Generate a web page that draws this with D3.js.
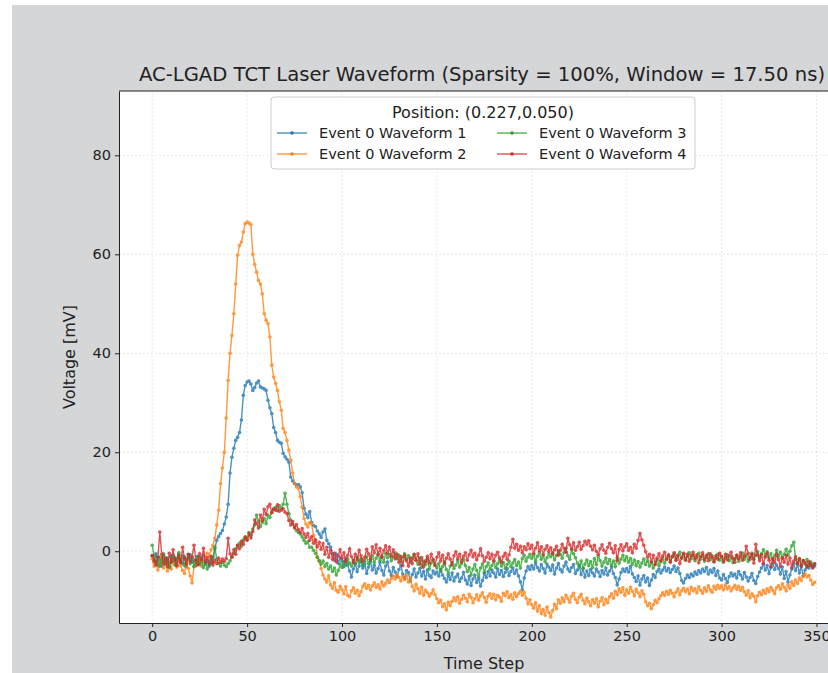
<!DOCTYPE html>
<html>
<head>
<meta charset="utf-8">
<script src="https://cdn.jsdelivr.net/npm/d3@7"></script>
<style>
    body { margin: 0; background: #ffffff; }
    svg { display: block; font-family: "DejaVu Sans", sans-serif; }
    .tick text { font-family: "DejaVu Sans", sans-serif; }
</style>
</head>
<body>
<script>
// series values, one per time step (0..349)
let wave1 = [
    -1.0,-2.1,-0.5,-2.8,-1.2,-3.0,-0.8,-2.4,-1.6,-3.3,
    -0.9,-2.0,-1.3,-2.7,-0.6,-1.9,-2.5,-1.1,-3.1,-1.4,
    -0.7,-2.2,-1.8,-2.9,-1.0,-2.3,-1.5,-0.8,-2.6,-1.9,
    -3.0,-2.4,-1.2,0.5,2.2,3.0,3.6,4.2,5.5,6.9,
    9.5,15.8,19.0,20.8,22.4,23.0,24.0,26.5,31.5,33.5,
    34.2,34.4,33.8,32.5,33.1,34.0,34.4,33.2,33.0,32.8,
    32.5,30.5,29.0,27.8,25.0,24.0,22.4,22.0,21.8,19.8,
    19.1,18.6,18.0,15.0,14.2,13.7,13.4,13.5,13.0,11.8,
    8.7,7.5,6.8,8.0,5.8,5.2,5.0,4.1,3.5,2.8,
    3.9,4.5,2.2,1.5,0.8,-0.5,-1.8,-0.6,-2.4,-1.3,
    -2.0,-3.1,-1.5,-2.8,-4.0,-5.2,-3.6,-2.5,-4.1,-3.0,
    -1.8,-3.4,-2.6,-4.5,-3.2,-2.1,-3.8,-2.9,-4.4,-3.5,
    -2.3,-3.9,-4.8,-3.0,-2.2,-4.0,-4.9,-3.3,-4.2,-5.1,
    -3.7,-2.8,-4.6,-5.5,-3.9,-4.3,-6.0,-4.7,-3.6,-5.2,
    -4.4,-3.5,-5.0,-4.1,-5.6,-3.8,-4.9,-5.3,-4.0,-4.6,
    -4.2,-5.0,-3.7,-4.8,-5.5,-6.2,-4.9,-5.7,-4.4,-6.0,
    -5.2,-4.6,-6.1,-5.4,-4.3,-5.8,-6.6,-5.1,-6.9,-5.6,
    -4.8,-6.3,-5.5,-7.0,-5.9,-4.5,-5.3,-4.1,-5.0,-3.8,
    -4.4,-5.2,-3.6,-4.7,-3.9,-5.1,-4.3,-3.5,-4.9,-4.1,
    -3.4,-4.5,-3.8,-5.0,-6.2,-7.8,-5.4,-4.0,-3.1,-3.7,
    -2.9,-3.6,-2.4,-3.3,-4.0,-2.7,-3.5,-4.4,-2.6,-3.2,
    -3.9,-2.8,-4.6,-3.4,-2.5,-3.7,-4.2,-3.0,-2.2,-3.6,
    -4.1,-3.3,-2.7,-4.5,-3.8,-2.9,-4.7,-3.5,-5.2,-4.0,
    -4.9,-3.7,-4.4,-5.0,-3.6,-4.2,-5.1,-3.9,-4.6,-3.4,
    -4.8,-4.0,-3.2,-4.5,-5.3,-6.8,-5.6,-4.3,-3.6,-4.1,
    -3.5,-4.2,-3.1,-4.6,-5.3,-6.1,-5.0,-6.8,-5.6,-4.9,
    -6.2,-5.4,-6.9,-5.8,-4.7,-5.3,-4.1,-3.6,-4.4,-3.8,
    -3.2,-4.0,-3.5,-4.3,-3.7,-3.0,-4.1,-3.4,-4.5,-5.9,
    -6.4,-5.5,-4.8,-5.3,-4.6,-5.0,-4.2,-4.7,-3.9,-4.4,
    -3.6,-4.1,-3.3,-4.6,-3.8,-4.3,-3.5,-4.9,-4.0,-5.4,
    -5.8,-4.7,-5.5,-6.3,-5.1,-4.4,-5.0,-4.6,-5.4,-4.1,
    -4.8,-5.6,-4.3,-5.2,-6.0,-5.3,-4.5,-5.9,-6.5,-5.1,
    -4.2,-3.4,-2.6,-3.8,-2.9,-4.5,-3.3,-2.4,-3.7,-2.8,
    -3.5,-4.6,-3.2,-5.5,-4.1,-6.2,-4.8,-3.6,-2.5,-3.9,
    -2.7,-4.4,-3.1,-5.0,-3.8,-2.9,-3.4,-2.6,-3.2,-3.0
];

let wave2 = [
    -1.5,-3.0,-2.2,-3.8,-2.5,-1.2,-3.4,-2.0,-4.0,-2.8,
    -3.6,-1.8,-2.6,-3.2,-1.4,-2.9,-3.9,-4.5,-2.3,-3.5,
    -5.0,-6.4,-3.1,-2.0,-2.7,-1.6,-3.0,-2.1,-1.1,-0.4,
    -0.9,0.3,1.2,2.6,5.3,8.3,13.7,16.8,20.0,26.9,
    34.5,40.0,43.6,48.0,54.0,59.8,61.8,62.5,64.5,66.2,
    66.5,66.3,66.0,60.0,58.0,56.4,54.7,54.0,52.0,48.0,
    46.7,46.0,43.3,37.6,35.2,33.9,32.5,30.2,28.5,24.8,
    24.0,22.4,20.4,18.4,15.8,13.7,13.0,12.7,11.0,8.9,
    6.6,5.5,4.9,5.8,5.5,3.2,2.2,-1.2,-2.0,-3.5,
    -4.8,-5.6,-6.2,-5.0,-6.8,-7.5,-6.4,-7.9,-8.3,-7.1,
    -7.8,-8.6,-7.2,-8.9,-9.2,-8.0,-7.4,-8.5,-7.9,-9.0,
    -8.2,-7.1,-6.6,-7.5,-6.9,-7.8,-7.0,-6.4,-7.3,-6.8,
    -7.6,-6.2,-7.0,-6.5,-5.8,-6.3,-5.5,-5.0,-5.6,-4.8,
    -5.3,-6.0,-5.1,-5.7,-4.9,-6.2,-5.4,-7.1,-8.0,-6.7,
    -7.6,-8.5,-7.3,-8.9,-7.9,-8.4,-9.1,-8.6,-7.8,-8.8,
    -9.6,-10.4,-9.9,-11.2,-10.6,-11.8,-10.3,-11.0,-10.1,-9.4,
    -10.0,-9.2,-10.5,-9.7,-8.9,-9.5,-10.2,-8.7,-9.3,-10.4,
    -9.6,-8.8,-9.9,-9.0,-8.4,-9.4,-10.3,-9.1,-8.6,-9.5,
    -8.7,-9.8,-8.9,-9.3,-10.1,-8.5,-9.0,-8.2,-9.4,-8.8,
    -9.7,-8.4,-9.2,-8.6,-8.1,-8.9,-8.3,-9.5,-10.6,-9.8,
    -10.8,-11.5,-10.4,-12.1,-11.0,-12.6,-11.8,-12.9,-11.3,-12.4,
    -13.3,-12.0,-10.7,-11.6,-9.8,-10.5,-9.4,-10.2,-8.9,-9.6,
    -10.3,-9.1,-8.5,-9.7,-10.4,-9.3,-8.7,-9.9,-10.6,-9.5,
    -10.2,-11.0,-9.8,-10.5,-9.6,-11.2,-10.1,-9.4,-10.8,-9.7,
    -10.4,-9.2,-8.6,-9.5,-8.1,-8.8,-7.6,-8.3,-7.4,-8.9,
    -7.8,-8.5,-7.3,-8.1,-9.0,-7.7,-8.4,-9.2,-8.0,-8.7,
    -10.2,-11.0,-10.5,-11.6,-10.8,-9.9,-10.4,-9.6,-9.0,-8.4,
    -8.9,-8.1,-8.7,-7.9,-8.5,-9.2,-8.3,-7.6,-8.8,-8.0,
    -7.5,-8.2,-7.7,-8.6,-7.3,-8.0,-7.6,-8.4,-7.2,-7.9,
    -8.5,-7.4,-8.1,-7.0,-7.8,-8.3,-7.1,-7.7,-6.9,-7.5,
    -7.0,-7.8,-6.8,-7.6,-7.2,-8.0,-7.4,-6.9,-7.7,-7.1,
    -7.9,-7.3,-8.2,-8.9,-8.0,-9.4,-8.6,-9.1,-10.2,-9.0,
    -8.3,-8.8,-7.9,-8.5,-7.6,-8.2,-7.3,-7.9,-8.6,-7.4,
    -7.0,-7.7,-6.6,-7.3,-8.0,-6.8,-7.5,-6.2,-6.9,-5.8,
    -6.5,-5.4,-5.9,-5.0,-4.6,-5.2,-4.9,-5.8,-6.7,-6.3
];

let wave3 = [
    1.2,-0.8,-2.4,-1.1,-3.0,-1.8,-0.5,-2.6,-1.4,-3.2,
    -2.0,-0.9,-2.8,-1.5,-0.3,-2.2,-1.0,-2.9,-1.7,-0.6,
    -2.5,-1.3,-3.1,-2.0,-1.1,-2.7,-1.9,-3.3,-2.4,-3.6,
    -2.8,-1.5,-2.3,0.8,-1.6,-2.5,-3.0,-2.2,-2.8,-3.1,
    -2.5,-1.9,-1.0,-0.4,0.5,1.1,1.6,1.0,2.3,2.9,
    2.4,3.8,3.2,4.5,5.3,7.3,6.1,5.0,5.8,6.6,
    5.6,7.3,6.8,7.9,8.5,8.9,8.2,9.2,8.7,9.5,
    11.7,9.5,7.6,6.3,5.5,4.9,4.2,3.8,3.5,2.9,
    2.2,1.6,1.9,0.8,0.8,0.2,-0.4,-1.2,-1.9,-2.6,
    -2.0,-3.1,-2.5,-3.6,-3.0,-4.1,-3.4,-4.8,-3.9,-2.7,
    -3.3,-2.1,-2.8,-1.6,-2.4,-3.0,-1.8,-2.6,-1.2,-2.2,
    -1.5,-2.9,-2.0,-1.1,-2.5,-1.7,-0.9,-2.3,-1.4,-0.6,
    -1.8,-1.0,-2.2,-0.4,-1.3,-0.7,-1.9,-1.1,-0.3,-1.5,
    -0.8,-2.0,-1.2,-0.5,-1.6,-0.9,-2.2,-1.4,-0.6,-1.8,
    -2.6,-1.3,-3.2,-2.0,-2.7,-1.5,-3.6,-2.4,-1.8,-2.9,
    -3.4,-2.5,-4.0,-3.1,-2.2,-3.7,-4.4,-3.0,-2.3,-3.5,
    -2.8,-1.9,-3.2,-2.5,-1.6,-2.9,-4.1,-3.3,-4.8,-3.6,
    -2.7,-3.9,-5.0,-3.4,-2.6,-4.2,-3.1,-2.4,-3.6,-2.9,
    -2.1,-3.3,-2.5,-1.8,-3.0,-2.3,-3.5,-2.7,-2.0,-3.1,
    -2.4,-1.7,-2.9,-2.2,-3.4,-1.5,-0.8,-2.0,-1.2,-0.6,
    -1.4,-0.7,-1.9,-1.0,-0.3,-1.6,-0.9,-2.1,-1.3,-0.5,
    -1.1,-0.4,-1.7,-0.8,0.1,-0.6,-1.4,-0.2,0.6,-0.9,
    -1.6,0.3,-0.5,-1.3,-2.4,-3.2,-2.0,-3.5,-2.6,-1.8,
    -2.9,-2.1,-3.3,-1.5,-2.7,-1.0,-1.9,-3.0,-2.2,-1.4,
    -2.5,-1.7,-2.8,-2.0,-3.1,-1.3,-2.4,-1.6,-0.8,-1.9,
    -1.1,-2.2,-1.5,-2.6,-1.8,-2.9,-2.1,-3.2,-2.4,-1.6,
    -2.7,-1.9,-3.0,-2.3,-3.4,-2.6,-1.8,-2.9,-2.1,-1.3,
    -2.4,-1.6,-0.9,-2.0,-1.2,-0.5,-1.7,-0.9,-0.2,-1.4,
    -0.6,-1.8,-1.0,-0.3,-1.5,-0.7,-1.9,-1.1,-0.4,-1.6,
    -0.8,-2.0,-1.2,-0.5,-1.7,-0.9,-2.1,-1.3,-0.6,-1.8,
    -1.0,-2.2,-1.4,-0.7,-1.9,-1.1,-2.3,-1.5,-0.8,-2.0,
    -1.2,-0.4,-1.6,-0.8,-2.0,-1.2,-0.4,-1.6,-0.8,-0.1,
    -1.3,-0.5,0.3,-0.9,-0.1,-1.3,-0.5,-1.7,-0.9,0.2,
    -1.0,-0.2,-1.4,-0.6,0.4,-0.8,0.0,1.1,1.8,-1.6,
    -2.4,-1.5,-2.8,-1.9,-2.6,-1.7,-3.0,-2.2,-2.9,-2.5
];

let wave4 = [
    -0.8,-1.9,-2.8,-1.2,3.9,-0.6,-2.5,-1.4,-3.1,-0.4,
    -2.2,0.3,-1.7,-2.9,-0.9,-2.3,0.8,-1.5,-2.6,-0.7,
    -2.0,-1.1,1.2,-1.8,-2.7,-0.5,-1.6,0.6,-2.1,-1.3,
    -2.4,-1.0,-2.8,-1.9,-2.5,-1.4,-2.2,-1.6,-2.0,-1.5,
    2.6,-0.5,-1.2,0.3,-0.6,1.2,0.5,2.0,1.4,2.8,
    2.2,3.5,2.7,4.0,6.3,5.6,4.7,7.3,6.2,8.5,
    7.4,9.0,9.5,7.8,8.6,8.3,9.4,8.1,8.3,8.6,
    7.9,7.6,6.2,5.3,6.0,4.7,5.4,4.4,3.8,4.6,
    3.5,2.8,3.6,2.2,2.9,1.6,2.3,0.9,1.8,0.4,
    1.5,-0.6,0.8,-1.2,0.2,-1.6,-0.4,-2.1,-0.9,0.3,
    -1.4,-0.3,-2.0,-0.8,0.5,-1.1,-2.3,-0.6,-1.7,0.2,
    -0.9,-2.0,-1.2,0.4,-0.5,-1.6,0.9,-0.3,1.3,-0.7,
    0.6,-1.2,0.2,1.1,-0.4,0.8,-1.0,0.3,-1.5,-0.6,
    -2.2,-1.1,-2.9,-0.8,-1.9,-3.0,-1.4,-2.5,-0.7,-1.8,
    -0.5,-2.6,-1.3,-3.2,-2.0,-1.0,-2.4,-0.6,-1.7,-2.8,
    -1.2,-0.3,-1.9,-0.8,-2.5,-1.4,-0.5,-1.6,-2.7,-0.9,
    -0.1,-1.5,-0.6,-2.1,-1.0,-0.3,-1.8,-0.7,0.2,-1.1,
    -0.4,-1.7,-0.8,0.5,-0.9,-2.0,-1.2,-0.3,-1.5,-0.6,
    -1.9,-0.8,-0.2,-1.3,-2.2,-1.0,-0.4,-1.6,-0.7,0.8,
    2.4,0.6,1.4,0.2,1.0,-0.3,0.9,0.3,1.5,0.5,
    1.2,-0.4,0.6,1.7,0.1,0.9,-0.6,0.4,1.1,0.0,
    0.7,-0.5,0.3,1.0,-0.8,0.2,1.4,0.6,-0.2,2.6,
    1.3,0.5,1.7,0.2,0.9,1.8,0.4,1.1,2.0,1.4,
    2.1,1.0,0.3,1.2,0.0,-0.6,0.5,1.3,0.2,-0.4,
    0.8,1.6,0.5,-0.3,1.1,-1.8,0.4,1.3,0.1,0.9,
    1.5,0.2,0.8,-0.3,1.4,0.6,2.2,3.6,2.3,1.2,
    -0.1,-1.2,-0.6,-2.1,-0.8,-2.7,-1.4,-0.5,-1.9,-0.9,
    -0.2,-1.6,-0.7,-2.2,-1.0,-0.3,-1.8,-0.8,-2.5,-1.3,
    -0.4,-1.7,-0.6,-2.0,-0.9,-0.2,-1.5,-0.7,-2.3,-1.1,
    -0.3,-1.6,-0.8,-1.9,-0.5,-1.2,-2.1,-0.9,-1.6,-0.4,
    -1.1,-2.0,-0.6,-1.7,-0.9,-0.2,-1.4,-2.2,-0.8,-1.5,
    -0.3,-1.8,-1.0,1.0,-0.4,-1.6,-0.6,-2.4,1.4,-0.8,
    -1.9,-0.7,-2.5,-1.2,-0.4,-1.8,-3.1,-1.5,-2.3,-0.6,
    -1.7,-3.0,-1.3,-2.2,-0.8,-2.6,-1.4,-3.3,-2.0,-1.1,
    -2.5,-1.6,-3.0,-1.9,-2.4,-3.2,-2.1,-2.8,-3.4,-2.6
];

let seriesNames = ["Event 0 Waveform 1", "Event 0 Waveform 2", "Event 0 Waveform 3", "Event 0 Waveform 4"];
let seriesColors = ["#1f77b4", "#ff7f0e", "#2ca02c", "#d62728"];
let xTicks = [0, 50, 100, 150, 200, 250, 300, 350];
let yTicks = [0, 20, 40, 60, 80];

let w = 828,
    h = 673;

let svg = d3.select("body")
    .append("svg")
    .attr("width", w)
    .attr("height", h);

// grey figure background (screenshot leaves a white strip top/left)
svg.append("rect")
    .attr("x", 12)
    .attr("y", 5)
    .attr("width", w - 12)
    .attr("height", h - 5)
    .style("fill", "#d5d6d8");

let x = d3.scaleLinear()
    .domain([-17.5, 367.5])
    .range([119, 849.7]);

let y = d3.scaleLinear()
    .domain([-14.5, 93])
    .range([623, 91]);

let plotLeft = x.range()[0], plotRight = x.range()[1],
    plotTop = y.range()[1], plotBottom = y.range()[0];

// axes background
svg.append("rect")
    .attr("x", plotLeft)
    .attr("y", plotTop)
    .attr("width", plotRight - plotLeft)
    .attr("height", plotBottom - plotTop)
    .style("fill", "#ffffff");

// dotted grid
svg.append("g")
    .selectAll("line")
    .data(xTicks)
    .enter()
    .append("line")
    .attr("x1", function(d) { return x(d); })
    .attr("x2", function(d) { return x(d); })
    .attr("y1", plotTop)
    .attr("y2", plotBottom)
    .style("stroke", "#d9d9d9")
    .style("stroke-width", 0.8)
    .style("stroke-dasharray", "1.5,2.5");

svg.append("g")
    .selectAll("line")
    .data(yTicks)
    .enter()
    .append("line")
    .attr("x1", plotLeft)
    .attr("x2", plotRight)
    .attr("y1", function(d) { return y(d); })
    .attr("y2", function(d) { return y(d); })
    .style("stroke", "#d9d9d9")
    .style("stroke-width", 0.8)
    .style("stroke-dasharray", "1.5,2.5");

svg.append("clipPath")
    .attr("id", "plotClip")
    .append("rect")
    .attr("x", plotLeft)
    .attr("y", plotTop)
    .attr("width", plotRight - plotLeft)
    .attr("height", plotBottom - plotTop);

let allSeries = [wave1, wave2, wave3, wave4];

let line = d3.line()
    .x(function(d, i) { return x(i); })
    .y(function(d) { return y(d); });

let plot = svg.append("g")
    .attr("clip-path", "url(#plotClip)");

allSeries.forEach(function(values, k) {
    let g = plot.append("g")
        .style("opacity", 0.8);

    g.append("path")
        .datum(values)
        .attr("d", line)
        .style("fill", "none")
        .style("stroke", seriesColors[k])
        .style("stroke-width", 1.4);

    g.selectAll("circle")
        .data(values)
        .enter()
        .append("circle")
        .attr("cx", function(d, i) { return x(i); })
        .attr("cy", function(d) { return y(d); })
        .attr("r", 1.8)
        .style("fill", seriesColors[k]);
});

// axes
let xAxis = svg.append("g")
    .attr("transform", "translate(0," + plotBottom + ")")
    .call(d3.axisBottom(x).tickValues(xTicks).tickSize(4).tickPadding(4).tickSizeOuter(0));

let yAxis = svg.append("g")
    .attr("transform", "translate(" + plotLeft + ",0)")
    .call(d3.axisLeft(y).tickValues(yTicks).tickSize(4).tickPadding(4).tickSizeOuter(0));

[xAxis, yAxis].forEach(function(a) {
    a.selectAll("text")
        .style("font-size", "14.5px")
        .style("fill", "#222");
    a.selectAll(".tick line").style("stroke", "#222");
    a.select(".domain").style("stroke", "#222").style("stroke-width", 1);
});

// top spine
svg.append("line")
    .attr("x1", plotLeft)
    .attr("x2", plotRight)
    .attr("y1", plotTop)
    .attr("y2", plotTop)
    .style("stroke", "#222")
    .style("stroke-width", 1);

// title and axis labels
svg.append("text")
    .attr("x", 482)
    .attr("y", 81)
    .attr("text-anchor", "middle")
    .style("font-size", "19.6px")
    .style("fill", "#222")
    .text("AC-LGAD TCT Laser Waveform (Sparsity = 100%, Window = 17.50 ns)");

svg.append("text")
    .attr("x", 484)
    .attr("y", 669)
    .attr("text-anchor", "middle")
    .style("font-size", "16px")
    .style("fill", "#222")
    .text("Time Step");

svg.append("text")
    .attr("transform", "translate(75," + (plotTop + plotBottom) / 2 + ") rotate(-90)")
    .attr("text-anchor", "middle")
    .style("font-size", "16px")
    .style("fill", "#222")
    .text("Voltage [mV]");

// legend
let legend = svg.append("g");

legend.append("rect")
    .attr("x", 271)
    .attr("y", 97)
    .attr("width", 424)
    .attr("height", 72)
    .attr("rx", 3)
    .style("fill", "#ffffff")
    .style("fill-opacity", 0.85)
    .style("stroke", "#cccccc");

legend.append("text")
    .attr("x", 483)
    .attr("y", 118)
    .attr("text-anchor", "middle")
    .style("font-size", "16px")
    .style("fill", "#222")
    .text("Position: (0.227,0.050)");

let items = legend.selectAll(".item")
    .data(seriesNames)
    .enter()
    .append("g")
    .attr("class", "item")
    .attr("transform", function(d, i) {
        let col = Math.floor(i / 2), row = i % 2;
        return "translate(" + (277 + col * 220) + "," + (133 + row * 21) + ")";
    });

items.append("line")
    .attr("x1", 0)
    .attr("x2", 30)
    .style("stroke", function(d, i) { return seriesColors[i]; })
    .style("stroke-width", 1.4)
    .style("opacity", 0.8);

items.append("circle")
    .attr("cx", 15)
    .attr("r", 1.8)
    .style("fill", function(d, i) { return seriesColors[i]; });

items.append("text")
    .attr("x", 42)
    .attr("y", 5)
    .style("font-size", "14.5px")
    .style("fill", "#222")
    .text(function(d) { return d; });
</script>
</body>
</html>
